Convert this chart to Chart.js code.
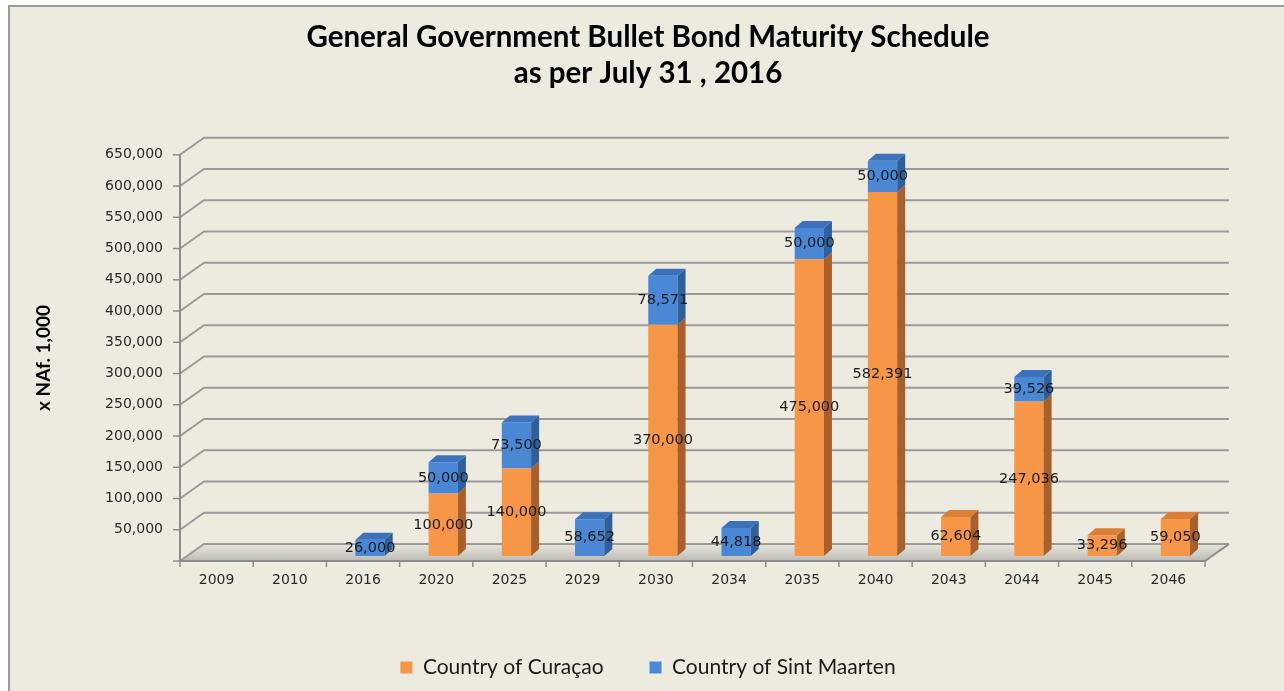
<!DOCTYPE html>
<html>
<head>
<meta charset="utf-8">
<title>Bullet Bond Maturity Schedule</title>
<script src="https://cdn.jsdelivr.net/npm/chart.js@4.4.1/dist/chart.umd.min.js"></script>
<style>
  html, body { margin: 0; padding: 0; background: #fff; }
  #frame {
    position: absolute; left: 8px; top: 5px; width: 1276px; height: 686px;
    box-sizing: border-box; background: #edebe0;
    border-left: 2px solid #9c9c9c; border-top: 2px solid #9c9c9c;
  }
  #wrap { position: absolute; left: 0; top: 0; width: 1284px; height: 691px; }
</style>
</head>
<body>
<div id="frame"></div>
<div id="wrap"><canvas id="bondChart"></canvas></div>
<script>
// maturity years and amounts (x NAf. 1,000)
const years = ['2009', '2010', '2016', '2020', '2025', '2029', '2030', '2034', '2035', '2040', '2043', '2044', '2045', '2046'];
const curacao = [0, 0, 0, 100000, 140000, 0, 370000, 0, 475000, 582391, 62604, 247036, 33296, 59050];
const sintMaarten = [0, 0, 26000, 50000, 73500, 58652, 78571, 44818, 50000, 50000, 0, 39526, 0, 0];
const yMax = 650000;
const yStep = 50000;

// colours: front / side / top
const orange = ['#f79646', '#a95f2b', '#dc7f36'];
const blue = ['#4a88d6', '#2f5f9c', '#3b72bb'];

// 3d look: back wall offset and bar depth
const WALL_X = 24, WALL_Y = 17;
const BAR_X = 8, BAR_Y = 7;
const SHIFT_X = 7, SHIFT_Y = -5;

const fmt = v => v.toLocaleString('en-US');

const threeD = {
  id: 'threeD',
  beforeDatasetsDraw(chart) {
    const { ctx, chartArea: a, scales: { x, y } } = chart;
    const y0 = y.getPixelForValue(0);
    ctx.save();
    // floor
    const g = ctx.createLinearGradient(0, y0 - WALL_Y, 0, y0);
    g.addColorStop(0, 'rgba(150,150,150,0.08)');
    g.addColorStop(1, 'rgba(110,110,110,0.40)');
    ctx.fillStyle = g;
    ctx.beginPath();
    ctx.moveTo(a.left, y0);
    ctx.lineTo(a.left + WALL_X, y0 - WALL_Y);
    ctx.lineTo(a.right + WALL_X, y0 - WALL_Y);
    ctx.lineTo(a.right, y0);
    ctx.closePath();
    ctx.fill();

    // back wall grid lines
    ctx.strokeStyle = '#9a9a9a';
    ctx.lineWidth = 2;
    y.ticks.forEach(t => {
      const py = y.getPixelForValue(t.value);
      ctx.beginPath();
      ctx.moveTo(a.left, py);
      ctx.lineTo(a.left + WALL_X, py - WALL_Y);
      ctx.lineTo(a.right + WALL_X, py - WALL_Y);
      ctx.stroke();
    });

    // front axes and floor edge
    ctx.strokeStyle = '#8c8c8c';
    ctx.beginPath();
    ctx.moveTo(a.left, y.getPixelForValue(yMax));
    ctx.lineTo(a.left, y0);
    ctx.lineTo(a.right, y0);
    ctx.lineTo(a.right + WALL_X, y0 - WALL_Y);
    ctx.stroke();

    // tick marks
    ctx.lineWidth = 1.5;
    y.ticks.forEach(t => {
      const py = y.getPixelForValue(t.value);
      ctx.beginPath();
      ctx.moveTo(a.left - 7, py);
      ctx.lineTo(a.left, py);
      ctx.stroke();
    });
    const n = years.length;
    for (let i = 0; i <= n; i++) {
      const px = a.left + i * a.width / n;
      ctx.beginPath();
      ctx.moveTo(px, y0);
      ctx.lineTo(px, y0 + 6);
      ctx.stroke();
    }
    ctx.restore();

    // bars sit in the middle of the depth
    ctx.save();
    ctx.translate(SHIFT_X, SHIFT_Y);
  },
  afterDatasetsDraw(chart) {
    const { ctx } = chart;
    const metas = [chart.getDatasetMeta(0), chart.getDatasetMeta(1)];
    const cols = [orange, blue];
    const series = [curacao, sintMaarten];

    years.forEach((yr, i) => {
      let topIdx = -1;
      series.forEach((s, d) => { if (s[i] > 0) topIdx = d; });
      series.forEach((s, d) => {
        if (!(s[i] > 0)) return;
        const b = metas[d].data[i].getProps(['x', 'y', 'base', 'width'], true);
        const l = b.x - b.width / 2, r = b.x + b.width / 2;
        // side face
        ctx.fillStyle = cols[d][1];
        ctx.beginPath();
        ctx.moveTo(r, b.y);
        ctx.lineTo(r + BAR_X, b.y - BAR_Y);
        ctx.lineTo(r + BAR_X, b.base - BAR_Y);
        ctx.lineTo(r, b.base);
        ctx.closePath();
        ctx.fill();
        // top face
        if (d === topIdx) {
          ctx.fillStyle = cols[d][2];
          ctx.beginPath();
          ctx.moveTo(l, b.y);
          ctx.lineTo(l + BAR_X, b.y - BAR_Y);
          ctx.lineTo(r + BAR_X, b.y - BAR_Y);
          ctx.lineTo(r, b.y);
          ctx.closePath();
          ctx.fill();
        }
      });
    });

    // value labels
    ctx.font = '14.5px "DejaVu Sans"';
    ctx.fillStyle = '#1c1c1c';
    ctx.textAlign = 'center';
    ctx.textBaseline = 'middle';
    series.forEach((s, d) => {
      s.forEach((v, i) => {
        if (!(v > 0)) return;
        const b = metas[d].data[i].getProps(['x', 'y', 'base'], true);
        ctx.fillText(fmt(v), b.x, (b.y + b.base) / 2);
      });
    });
    ctx.restore();
  }
};

Chart.defaults.font.family = '"DejaVu Sans", sans-serif';
Chart.defaults.font.size = 14;
Chart.defaults.color = '#2a2a2a';

new Chart(document.getElementById('bondChart'), {
  type: 'bar',
  data: {
    labels: years,
    datasets: [{
      label: 'Country of Curaçao',
      data: curacao,
      backgroundColor: orange[0],
      borderWidth: 0
    }, {
      label: 'Country of Sint Maarten',
      data: sintMaarten,
      backgroundColor: blue[0],
      borderWidth: 0
    }]
  },
  options: {
    responsive: true,
    maintainAspectRatio: false,
    animation: false,
    barPercentage: 0.4,
    categoryPercentage: 1,
    layout: { padding: { left: 12, right: 0, top: 0, bottom: 3 } },
    plugins: {
      title: {
        display: true,
        text: ['General Government Bullet Bond Maturity Schedule', 'as per July 31 , 2016'],
        font: { family: 'Lato', size: 29.5, weight: 'bold', lineHeight: 1.2 },
        color: '#000',
        padding: { top: 20, bottom: 64 }
      },
      legend: {
        position: 'bottom',
        labels: {
          font: { family: 'Lato', size: 21 },
          color: '#1a1a1a',
          boxWidth: 12,
          boxHeight: 12,
          padding: 46
        }
      },
      tooltip: { enabled: false }
    },
    scales: {
      x: {
        stacked: true,
        grid: { display: false },
        border: { display: false },
        ticks: { padding: 3, color: '#2a2a2a' },
        afterFit: s => { s.height = 50; }
      },
      y: {
        stacked: true,
        min: 0,
        max: yMax,
        grid: { display: false },
        border: { display: false },
        ticks: {
          stepSize: yStep,
          padding: 9,
          color: '#2a2a2a',
          callback: v => (v === 0 ? '' : fmt(v))
        },
        title: {
          display: true,
          text: 'x NAf. 1,000',
          font: { family: 'Lato', size: 19, weight: 'bold' },
          color: '#000',
          padding: { top: 20, bottom: 0 }
        },
        afterFit: s => { s.width = 168; }
      },
      // empty right-hand strip that leaves room for the 3d depth
      yRight: {
        position: 'right',
        display: true,
        grid: { display: false },
        border: { display: false },
        ticks: { display: false },
        afterFit: s => { s.width = 79; }
      }
    }
  },
  plugins: [threeD]
});
</script>
</body>
</html>
